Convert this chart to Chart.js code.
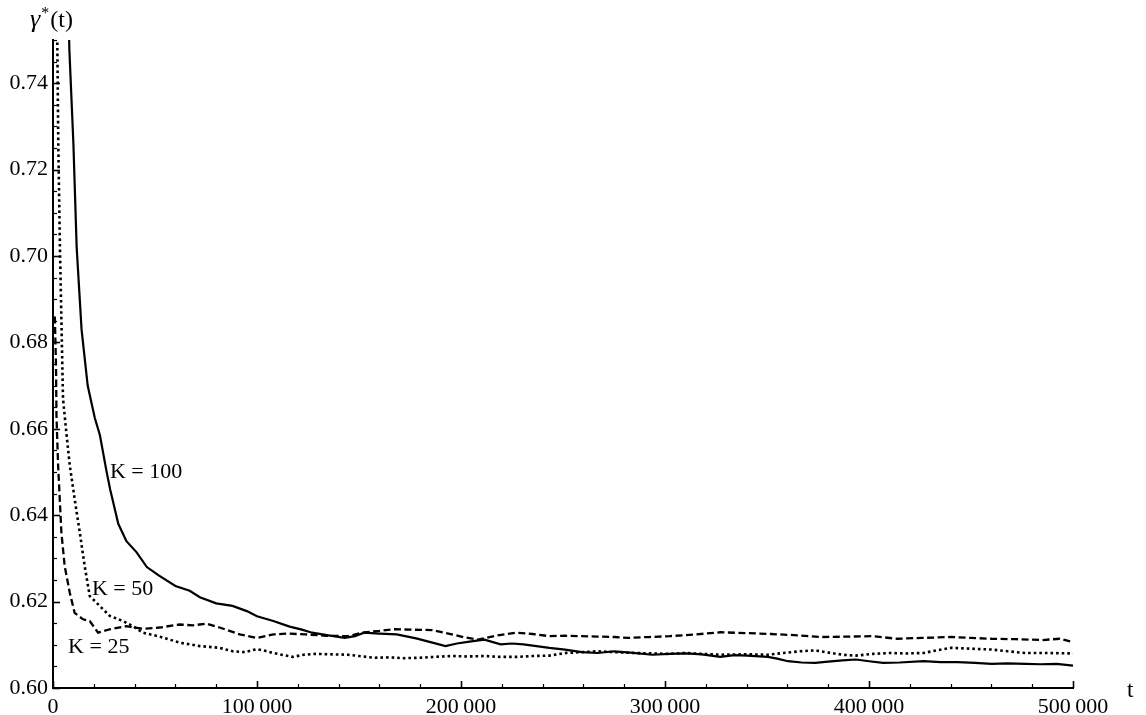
<!DOCTYPE html>
<html>
<head>
<meta charset="utf-8">
<script src="https://cdn.jsdelivr.net/npm/chart.js@4.4.1/dist/chart.umd.min.js"></script>
<style>
  html, body { margin: 0; padding: 0; background: #fff; }
  #wrap { width: 1146px; height: 715px; position: relative; }
</style>
</head>
<body>
<div id="wrap"><canvas id="myChart"></canvas></div>
<script>
// K = 100 (solid)
const t100 = [6000, 8000, 10000, 11600, 14000, 17000, 20500, 23000, 26300, 28000, 32000, 36000, 41000, 46000, 52000, 60000, 67000, 72000, 80000, 88000,
  95000, 100000, 108000, 116000, 122000, 127000, 135000, 143000, 148000, 152500, 160000, 168500, 178000, 186000, 192400, 198000, 205000, 211500, 219400, 225000,
  230600, 237000, 243300, 251000, 259200, 267000, 275200, 283000, 293800, 302000, 310500, 318000, 327100, 334000, 340400, 350400, 355000, 360300, 367000, 373600,
  380000, 387000, 393600, 400000, 406900, 415000, 426800, 435000, 443500, 452000, 460100, 468000, 476700, 484000, 492000, 500000];
const g100 = [0.80, 0.748, 0.726, 0.702, 0.683, 0.670, 0.6625, 0.6585, 0.650, 0.646, 0.638, 0.634, 0.6314, 0.628, 0.626, 0.6236, 0.6225, 0.621, 0.6196, 0.619,
  0.6178, 0.6166, 0.6155, 0.6142, 0.6135, 0.6128, 0.6122, 0.6116, 0.6120, 0.6128, 0.6126, 0.6124, 0.6115, 0.6105, 0.6097, 0.6103, 0.6108, 0.6112, 0.6101, 0.6103,
  0.6101, 0.6097, 0.6093, 0.6089, 0.6083, 0.6081, 0.6085, 0.6082, 0.6077, 0.6079, 0.608, 0.6078, 0.6072, 0.6076, 0.6075, 0.6072, 0.6068, 0.6062, 0.6059, 0.6058,
  0.6061, 0.6064, 0.6066, 0.6062, 0.6058, 0.6059, 0.6062, 0.606, 0.606, 0.6058, 0.6056, 0.6057, 0.6056, 0.6055, 0.6056, 0.6052];

// K = 50 (dotted)
const t50 = [1500, 2100, 2600, 3400, 4900, 6500, 8200, 10600, 13100, 15500, 18000, 22900, 27800, 34300, 39200, 44100, 52300, 62100, 71900, 81700,
  88000, 94000, 100000, 104000, 108000, 117500, 123000, 128700, 136000, 144600, 150000, 157300, 165000, 172000, 179600, 187000, 195500, 203000, 211500, 219000,
  227400, 235000, 243300, 251300, 259000, 267200, 275000, 285000, 293800, 302000, 310000, 318000, 327100, 340000, 350400, 358000, 366000, 373600, 380000, 387000,
  393600, 402000, 410200, 418000, 426800, 433000, 440200, 450000, 460100, 468000, 476700, 488000, 500000];
const g50 = [0.80, 0.75, 0.7256, 0.702, 0.667, 0.6593, 0.6516, 0.6438, 0.6361, 0.6283, 0.6213, 0.619, 0.6167, 0.6155, 0.6143, 0.6128, 0.6119, 0.6105, 0.6097, 0.6093,
  0.6085, 0.6083, 0.609, 0.6086, 0.6081, 0.6072, 0.6077, 0.6079, 0.6078, 0.6077, 0.6074, 0.607, 0.6071, 0.6069, 0.607, 0.6072, 0.6074, 0.6073, 0.6074, 0.6072,
  0.6072, 0.6074, 0.6075, 0.6081, 0.6083, 0.6085, 0.6083, 0.6081, 0.608, 0.6079, 0.6081, 0.6079, 0.6077, 0.6078, 0.6077, 0.6081, 0.6085, 0.6087, 0.6082, 0.6077,
  0.6075, 0.6079, 0.6081, 0.6080, 0.6081, 0.6087, 0.6093, 0.6091, 0.6089, 0.6085, 0.6081, 0.6081, 0.608];

// K = 25 (dashed)
const t25 = [900, 1500, 1700, 2500, 4100, 5700, 8200, 10600, 14700, 18000, 22100, 27800, 35900, 44100, 52300, 62100, 68600, 75200, 81700, 91500,
  100000, 108000, 115000, 123900, 134000, 144600, 152500, 160000, 166900, 176000, 186000, 195500, 202000, 208300, 218000, 227400, 235000, 243300, 251000, 259200,
  267000, 275200, 282200, 292000, 302200, 315000, 327100, 340000, 352000, 365000, 377000, 390000, 401900, 413600, 426000, 440200, 450000, 460100, 472000, 485000,
  493400, 500000];
const g25 = [0.686, 0.674, 0.663, 0.6516, 0.6361, 0.6283, 0.6221, 0.6174, 0.6159, 0.6155, 0.6128, 0.6136, 0.6143, 0.6137, 0.614, 0.6147, 0.6145, 0.6149, 0.614, 0.6124,
  0.6116, 0.6124, 0.6126, 0.6124, 0.6121, 0.612, 0.6129, 0.6132, 0.6136, 0.6135, 0.6134, 0.6124, 0.6117, 0.6112, 0.6122, 0.6128, 0.6125, 0.612, 0.6121, 0.612,
  0.6119, 0.6118, 0.6116, 0.6118, 0.612, 0.6124, 0.6129, 0.6127, 0.6125, 0.6122, 0.6118, 0.6119, 0.612, 0.6114, 0.6116, 0.6118, 0.6116, 0.6114, 0.6113, 0.6111,
  0.6114, 0.6106];

// curve labels
const labelText = ['K = 100', 'K = 50', 'K = 25'];
const labelT = [27900, 19100, 7400];
const labelG = [0.650, 0.6228, 0.6095];

const FONT = '"Liberation Serif", "Times New Roman", serif';

function pts(ts, gs) {
  return ts.map((t, i) => ({x: t, y: gs[i]}));
}

function fmtT(v) {
  if (v === 0) return '0';
  const s = String(v);
  return s.slice(0, s.length - 3) + '\u2009' + s.slice(-3);
}

const extras = {
  id: 'extras',
  afterDraw(chart) {
    const c = chart.ctx;
    const a = chart.chartArea;
    const xs = chart.scales.x, ys = chart.scales.y;
    c.save();
    c.strokeStyle = '#000';
    // inward ticks
    xs.ticks.forEach(tk => {
      const major = tk.value % 100000 === 0;
      const px = Math.round(xs.getPixelForValue(tk.value)) + 0.5;
      c.lineWidth = major ? 1.6 : 1.2;
      c.beginPath();
      c.moveTo(px, a.bottom);
      c.lineTo(px, a.bottom - (major ? 7 : 4));
      c.stroke();
    });
    ys.ticks.forEach(tk => {
      const major = Math.abs(tk.value * 50 - Math.round(tk.value * 50)) < 1e-6;
      const py = Math.round(ys.getPixelForValue(tk.value)) + 0.5;
      c.lineWidth = major ? 1.6 : 1.2;
      c.beginPath();
      c.moveTo(a.left, py);
      c.lineTo(a.left + (major ? 7 : 4), py);
      c.stroke();
    });
    // curve labels
    c.fillStyle = '#000';
    c.font = '22px ' + FONT;
    c.textBaseline = 'middle';
    c.textAlign = 'left';
    labelText.forEach((s, i) => {
      c.fillText(s, xs.getPixelForValue(labelT[i]), ys.getPixelForValue(labelG[i]));
    });
    // axis labels
    c.textBaseline = 'alphabetic';
    let x0 = a.left - 23;
    const yb = a.top - 13;
    c.font = 'italic 26px ' + FONT;
    c.fillText('\u03b3', x0, yb);
    x0 += c.measureText('\u03b3').width + 1;
    c.font = '16px ' + FONT;
    c.fillText('*', x0, yb - 9);
    x0 += c.measureText('*').width + 1;
    c.font = '24px ' + FONT;
    c.fillText('(t)', x0, yb);
    c.font = '23px ' + FONT;
    c.fillText('t', a.right + 54, a.bottom + 9);
    c.restore();
  }
};

const ctx = document.getElementById('myChart');

new Chart(ctx, {
  type: 'scatter',
  data: {
    datasets: [
      {label: 'K = 100', data: pts(t100, g100), borderColor: '#000', borderWidth: 2.2},
      {label: 'K = 50', data: pts(t50, g50), borderColor: '#000', borderWidth: 2.6, borderDash: [2.6, 3]},
      {label: 'K = 25', data: pts(t25, g25), borderColor: '#000', borderWidth: 2.3, borderDash: [7, 3.5]}
    ]
  },
  options: {
    responsive: true,
    maintainAspectRatio: false,
    devicePixelRatio: 1,
    animation: false,
    showLine: true,
    elements: {
      point: {radius: 0, hoverRadius: 0},
      line: {tension: 0, fill: false}
    },
    layout: {padding: {top: 40, right: 73, left: 0, bottom: 0}},
    plugins: {
      legend: {display: false},
      tooltip: {enabled: false},
      title: {display: false}
    },
    scales: {
      x: {
        type: 'linear',
        min: 0,
        max: 500000,
        afterFit: s => { s.height = 27; },
        grid: {display: true, drawOnChartArea: false, drawTicks: false},
        border: {display: true, color: '#000', width: 2},
        ticks: {
          stepSize: 20000,
          autoSkip: false,
          maxRotation: 0,
          padding: 6,
          color: '#000',
          font: {family: FONT, size: 22},
          callback: v => (v % 100000 === 0 ? fmtT(v) : '')
        }
      },
      y: {
        min: 0.60,
        max: 0.75,
        afterFit: s => { s.width = 53; },
        grid: {display: true, drawOnChartArea: false, drawTicks: false},
        border: {display: true, color: '#000', width: 2},
        ticks: {
          stepSize: 0.005,
          autoSkip: false,
          padding: 5,
          color: '#000',
          font: {family: FONT, size: 22},
          callback: v => (Math.abs(v * 50 - Math.round(v * 50)) < 1e-6 ? v.toFixed(2) : '')
        }
      }
    }
  },
  plugins: [extras]
});
</script>
</body>
</html>
